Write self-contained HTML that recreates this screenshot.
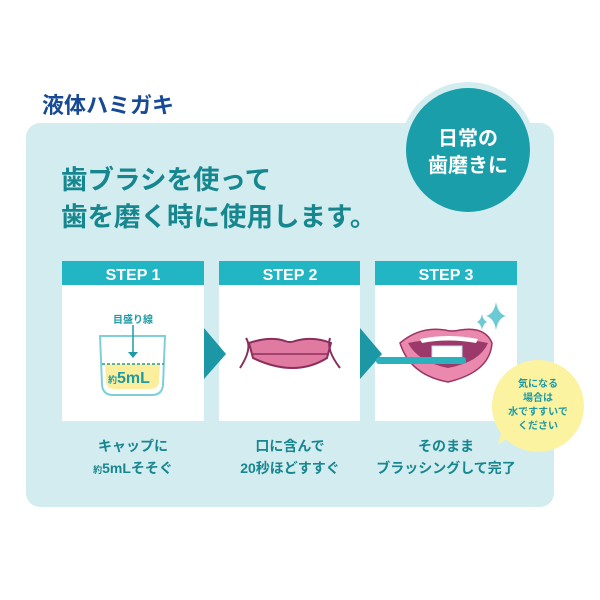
<!DOCTYPE html>
<html><head><meta charset="utf-8"><style>
body{margin:0;width:600px;height:600px;background:#fff;position:relative;overflow:hidden;font-family:"Liberation Sans","Noto Sans CJK JP",sans-serif;font-weight:bold}
.a{position:absolute}
.cap{position:absolute;width:160px;text-align:center;color:#17868f;font-size:14px;line-height:22px}
</style></head><body>
<svg class="a" style="left:0;top:0" width="600" height="600">
<rect x="26" y="123" width="528" height="384" rx="14" fill="#d3ecef"/>
<circle cx="468" cy="150" r="68" fill="#d3ecef"/>
<circle cx="468" cy="150" r="62" fill="#1a9ea9"/>
<rect x="62" y="261" width="142" height="160" fill="#fff"/><rect x="62" y="261" width="142" height="24" fill="#22b5c4"/>
<rect x="219" y="261" width="141" height="160" fill="#fff"/><rect x="219" y="261" width="141" height="24" fill="#22b5c4"/>
<rect x="375" y="261" width="142" height="160" fill="#fff"/><rect x="375" y="261" width="142" height="24" fill="#22b5c4"/>
<polygon points="204,328 226,354 204,379" fill="#1b97a5"/>
<polygon points="360,328 382,354 360,379" fill="#1b97a5"/>
<g font-family="Liberation Sans,sans-serif" font-weight="bold" font-size="16" fill="#fff" text-anchor="middle">
<text x="133" y="280">STEP 1</text><text x="290" y="280">STEP 2</text><text x="446" y="280">STEP 3</text></g>
<path d="M100,336 L165,336 L163,385 Q162,395 152,395 L113,395 Q103,395 102,385 Z" fill="none" stroke="#7fcfd8" stroke-width="2"/>
<path d="M105,364 L160,364 L159,382 Q158,389 150,389 L115,389 Q107,389 106,382 Z" fill="#fbef9e"/>
<line x1="102" y1="364" x2="164" y2="364" stroke="#1d9aa5" stroke-width="1.5" stroke-dasharray="3,2"/>
<line x1="133" y1="325" x2="133" y2="352" stroke="#1d9aa5" stroke-width="1.5"/>
<polygon points="128,352 138,352 133,358" fill="#1d9aa5"/>
<path d="M249,343 Q270,336 285,341 Q290,343 295,341 Q313,336 331,343 L327,358 Q295,378 253,358 Z" fill="#e07aa0" stroke="#8a2f5c" stroke-width="2"/>
<path d="M253,354 Q290,354 327,354" fill="none" stroke="#8a2f5c" stroke-width="1.5"/>
<path d="M246,338 Q253,348 240,368" fill="none" stroke="#8a2f5c" stroke-width="2"/>
<path d="M330,338 Q326,350 340,368" fill="none" stroke="#8a2f5c" stroke-width="2"/>
<path d="M400,343 Q420,326 445,330 Q452,332 460,330 Q485,326 492,343 Q490,372 448,382 Q410,375 400,343 Z" fill="#ea88ad" stroke="#9a3565" stroke-width="1.5"/>
<path d="M408,343 Q448,335 488,343 Q480,362 448,368 Q418,362 408,343 Z" fill="#9b3a6a"/>
<path d="M420,339 Q448,333 478,339 L476,343 Q448,338 422,343 Z" fill="#fff"/>
<rect x="432" y="346" width="30" height="13" fill="#fff" stroke="#bde" stroke-width="1"/>
<rect x="376" y="357" width="90" height="7" rx="3" fill="#2bb0bd"/>
<path d="M496,302 Q498,314 506,316 Q498,318 496,330 Q494,318 486,316 Q494,314 496,302Z" fill="#6ccad5"/>
<path d="M482,314 Q483,320 487,322 Q483,324 482,330 Q481,324 477,322 Q481,320 482,314Z" fill="#6ccad5"/>
<circle cx="538" cy="406" r="46" fill="#fbf3a0"/>
<polygon points="505,420 498,444 520,432" fill="#fbf3a0"/>
</svg>
<div class="a" style="left:42px;top:88px;font-size:22px;color:#174a96">液体ハミガキ</div>
<div class="a" style="left:61px;top:162px;font-size:26.5px;line-height:37px;color:#17878f">歯ブラシを使って<br>歯を磨く時に使用します。</div>
<div class="a" style="left:406px;top:126px;width:124px;text-align:center;font-size:20px;line-height:27px;color:#fff">日常の<br>歯磨きに</div>
<div class="a" style="left:93px;top:311px;width:80px;text-align:center;font-size:10px;color:#1d9aa5">目盛り線</div>
<div class="a" style="left:108px;top:370px;font-size:16px;color:#1d9aa5"><span style="font-size:9px">約</span>5mL</div>
<div class="a" style="left:492px;top:378px;width:92px;text-align:center;font-size:10px;line-height:14px;color:#1d9aa5">気になる<br>場合は<br>水ですすいで<br>ください</div>
<div class="cap" style="left:53px;top:435px">キャップに<br><span style="font-size:9px">約</span>5mLそそぐ</div>
<div class="cap" style="left:210px;top:435px">口に含んで<br>20秒ほどすすぐ</div>
<div class="cap" style="left:366px;top:435px">そのまま<br>ブラッシングして完了</div>
</body></html>
